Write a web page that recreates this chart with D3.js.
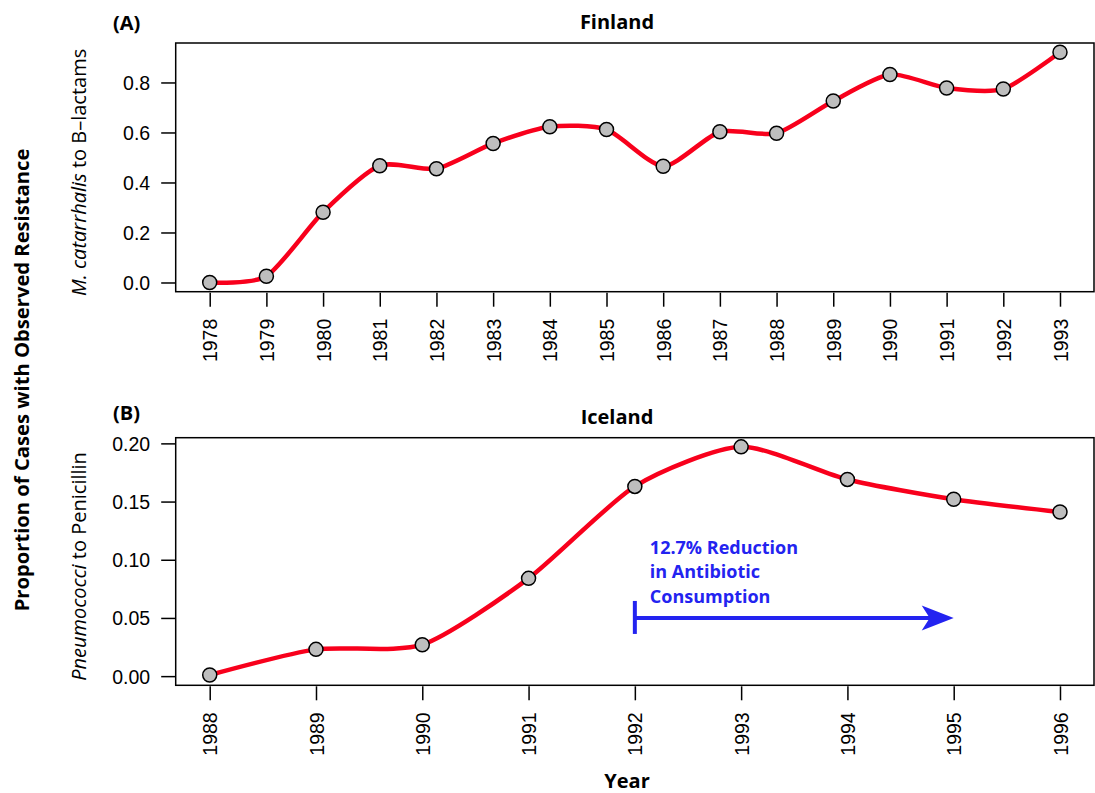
<!DOCTYPE html>
<html>
<head>
<meta charset="utf-8">
<script src="https://cdn.jsdelivr.net/npm/d3@7"></script>
<style>
    body { margin: 0; background: #fff; }
    svg { display: block; font-family: "Open Sans", sans-serif; }
</style>
</head>
<body>
<script>
// Panel A: Finland, M. catarrhalis resistance to B-lactams
let yearsA = [1978, 1979, 1980, 1981, 1982, 1983, 1984, 1985, 1986, 1987, 1988, 1989, 1990, 1991, 1992, 1993];
let valuesA = [0.0, 0.025, 0.281, 0.467, 0.455, 0.556, 0.623, 0.612, 0.465, 0.603, 0.597, 0.726, 0.832, 0.778, 0.774, 0.921];
let yTicksA = [0.0, 0.2, 0.4, 0.6, 0.8];

// Panel B: Iceland, Pneumococci resistance to penicillin
let yearsB = [1988, 1989, 1990, 1991, 1992, 1993, 1994, 1995, 1996];
let valuesB = [0.001, 0.023, 0.027, 0.084, 0.163, 0.197, 0.169, 0.152, 0.141];
let yTicksB = [0.00, 0.05, 0.10, 0.15, 0.20];

// Annotation: reduction in antibiotic consumption, 1992 -> 1995
let arrowYears = [1992, 1995];
let arrowLevel = 0.05;
let noteLines = ["12.7% Reduction", "in Antibiotic", "Consumption"];

let width = 1095, height = 793;
let left = 175.7, right = 1094;

let svg = d3.select("body")
    .append("svg")
    .attr("width", width)
    .attr("height", height);

// R style axis range: data range padded by 4% on each side
function pad([a, b]) {
    let d = (b - a) * 0.04;
    return [a - d, b + d];
}

function panel(opts) {
    let x = d3.scaleLinear().domain(pad(d3.extent(opts.years))).range([left, right]);
    let y = d3.scaleLinear().domain(pad([0, d3.max(opts.values)])).range([opts.bottom, opts.top]);

    let g = svg.append("g");

    // y axis (ticks only, box drawn separately)
    let yAxis = g.append("g")
        .attr("transform", `translate(${left},0)`)
        .call(d3.axisLeft(y).tickValues(opts.yTicks).tickFormat(d3.format(opts.fmt)).tickSize(14.5).tickPadding(11));
    yAxis.select(".domain").remove();
    yAxis.selectAll("line").attr("stroke", "#000").attr("stroke-width", 1.5);
    yAxis.selectAll("text")
        .attr("fill", "#000")
        .style("font-size", "19.5px")
        .attr("dy", "0.36em");

    // x axis, rotated year labels
    let xAxis = g.append("g")
        .attr("transform", `translate(0,${opts.bottom + 1})`)
        .call(d3.axisBottom(x).tickValues(opts.years).tickFormat(d3.format("d")).tickSize(14).tickPadding(0));
    xAxis.select(".domain").remove();
    xAxis.selectAll("line").attr("stroke", "#000").attr("stroke-width", 1.5);
    xAxis.selectAll("text")
        .attr("fill", "#000")
        .style("font-size", "19.5px")
        .attr("transform", "rotate(-90)")
        .attr("text-anchor", "end")
        .attr("x", -26)
        .attr("y", 0)
        .attr("dy", "0.36em");

    // plot box
    g.append("rect")
        .attr("x", left)
        .attr("y", opts.top)
        .attr("width", right - left)
        .attr("height", opts.bottom - opts.top)
        .attr("fill", "none")
        .attr("stroke", "#000")
        .attr("stroke-width", 1.5);

    let pts = opts.years.map((yr, i) => [yr, opts.values[i]]);

    g.append("path")
        .datum(pts)
        .attr("fill", "none")
        .attr("stroke", "#f8001c")
        .attr("stroke-width", 4.5)
        .attr("stroke-linejoin", "round")
        .attr("d", d3.line().x(d => x(d[0])).y(d => y(d[1])).curve(d3.curveCardinal.tension(0.3)));

    g.selectAll("circle.pt")
        .data(pts)
        .enter()
        .append("circle")
        .attr("class", "pt")
        .attr("cx", d => x(d[0]))
        .attr("cy", d => y(d[1]))
        .attr("r", 7)
        .attr("fill", "#bebebe")
        .attr("stroke", "#000")
        .attr("stroke-width", 1.5);

    // titles
    g.append("text")
        .attr("x", 617)
        .attr("y", opts.top - 14)
        .attr("text-anchor", "middle")
        .style("font-size", "20px")
        .style("font-weight", "bold")
        .text(opts.title);

    g.append("text")
        .attr("x", 113)
        .attr("y", opts.tagY)
        .style("font-size", "20px")
        .style("font-weight", "bold")
        .text(opts.tag);

    // per-panel y label: italic organism + plain drug
    let lab = g.append("text")
        .attr("transform", `translate(86,${(opts.top + opts.bottom) / 2 + 5}) rotate(-90)`)
        .attr("text-anchor", "middle")
        .style("font-size", "20px");
    lab.append("tspan").style("font-style", "italic").text(opts.organism);
    lab.append("tspan").text(opts.drug);

    return { x, y, g };
}

panel({
    years: yearsA, values: valuesA, yTicks: yTicksA, fmt: ".1f",
    top: 43, bottom: 291.7,
    title: "Finland", tag: "(A)", tagY: 30,
    organism: "M. catarrhalis", drug: " to B\u2013lactams"
});

let pB = panel({
    years: yearsB, values: valuesB, yTicks: yTicksB, fmt: ".2f",
    top: 437.7, bottom: 685.3,
    title: "Iceland", tag: "(B)", tagY: 420,
    organism: "Pneumococci", drug: " to Penicillin"
});

// blue arrow annotation in panel B
let blue = "#2323f0";
let ax0 = pB.x(arrowYears[0]), ax1 = pB.x(arrowYears[1]), ay = pB.y(arrowLevel);

pB.g.append("line")
    .attr("x1", ax0).attr("x2", ax0)
    .attr("y1", ay - 17).attr("y2", ay + 16)
    .attr("stroke", blue).attr("stroke-width", 4);

pB.g.append("line")
    .attr("x1", ax0).attr("x2", ax1 - 20)
    .attr("y1", ay).attr("y2", ay)
    .attr("stroke", blue).attr("stroke-width", 4);

pB.g.append("path")
    .attr("d", d3.line()([[ax1, ay], [ax1 - 32, ay - 12.5], [ax1 - 24, ay], [ax1 - 32, ay + 12.5]]) + "Z")
    .attr("fill", blue);

pB.g.append("g")
    .selectAll("text")
    .data(noteLines)
    .enter()
    .append("text")
    .attr("x", ax0 + 15)
    .attr("y", (d, i) => ay - 64 + i * 24.5)
    .attr("fill", blue)
    .style("font-size", "18px")
    .style("font-weight", "bold")
    .text(d => d);

// shared labels
svg.append("text")
    .attr("transform", "translate(29,380) rotate(-90)")
    .attr("text-anchor", "middle")
    .style("font-size", "20.2px")
    .style("font-weight", "bold")
    .text("Proportion of Cases with Observed Resistance");

svg.append("text")
    .attr("x", 627)
    .attr("y", 788)
    .attr("text-anchor", "middle")
    .style("font-size", "20px")
    .style("font-weight", "bold")
    .text("Year");
</script>
</body>
</html>
